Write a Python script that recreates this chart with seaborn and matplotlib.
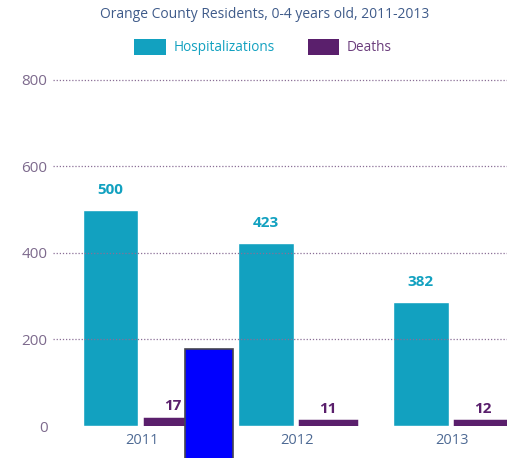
import matplotlib
matplotlib.use("Agg")
import matplotlib.pyplot as plt
import seaborn as sns
import pandas as pd
from matplotlib.patches import Patch
from matplotlib.colors import to_hex

years = ["2011", "2012", "2013"]
hospitalizations = [500, 423, 287]
hosp_labels = ["500", "423", "382"]
deaths = [17, 11, 12]
death_labels = ["17", "11", "12"]
overlay_value = [178]
overlay_bottom = [-90]
yticks = [0, 200, 400, 600, 800]

HOSP_C = "#12a1c0"
DEATH_C = "#5a1f6c"

sns.set_theme(style="white")
plt.rcParams["font.family"] = ["Open Sans", "DejaVu Sans"]

df = pd.DataFrame({
    "year": years * 2,
    "measure": ["Hospitalizations"] * 3 + ["Deaths"] * 3,
    "value": hospitalizations + deaths,
})

fig = plt.figure(figsize=(5.12, 4.58), dpi=100)
ax = fig.add_axes([53 / 512, (458 - 426) / 458, 454 / 512, 355 / 458])

sns.barplot(data=df, x="year", y="value", hue="measure",
            palette={"Hospitalizations": HOSP_C, "Deaths": DEATH_C},
            width=0.8, gap=0.1, ax=ax, legend=False, saturation=1)

for p in ax.patches:
    if to_hex(p.get_facecolor()) == DEATH_C:
        p.set_edgecolor(DEATH_C)
        p.set_linewidth(2.5)

ax.set_xlim(-0.571, 2.355)
ax.set_ylim(0, 820)
ax.set_yticks(yticks)
ax.set_yticklabels([str(t) for t in yticks], color="#7d6a8d", fontsize=11)
ax.tick_params(axis="y", length=0, pad=4)
ax.tick_params(axis="x", length=0, pad=5, labelsize=10.5, labelcolor="#4e6a94")
ax.set_xlabel("")
ax.set_ylabel("")
for s in ax.spines.values():
    s.set_visible(False)

ax.yaxis.grid(True, linestyle=(0, (1, 1.5)), color="#8a6f96", linewidth=0.9)
ax.set_axisbelow(False)
ax.yaxis.get_gridlines()[0].set_visible(False)

# value labels
for i, (v, lab) in enumerate(zip(hospitalizations, hosp_labels)):
    ax.text(i - 0.2, v + 30, lab, ha="center", va="bottom",
            color=HOSP_C, fontsize=11, fontweight="bold")
for i, (v, lab) in enumerate(zip(deaths, death_labels)):
    ax.text(i + 0.2, v + 12, lab, ha="center", va="bottom",
            color=DEATH_C, fontsize=11, fontweight="bold")

# blue overlay bar
for v, b in zip(overlay_value, overlay_bottom):
    ax.bar(0.435, v - b, bottom=b, width=0.31, color="#0000ff",
           edgecolor="#44444f", linewidth=1.2, clip_on=False, zorder=5)

fig.text(265 / 512, 1 - 14 / 458, "Orange County Residents, 0-4 years old, 2011-2013",
         ha="center", va="center", color="#3f5b8a", fontsize=10)

handles = [Patch(facecolor=HOSP_C, edgecolor="none"),
           Patch(facecolor=DEATH_C, edgecolor="none")]
leg = fig.legend(handles, ["Hospitalizations", "Deaths"], ncol=2,
                 loc="center", bbox_to_anchor=(0.514, 1 - 47 / 458),
                 frameon=False, fontsize=9.8, handlelength=2.3, handleheight=1.5,
                 columnspacing=2.4, handletextpad=0.6)
for t, c in zip(leg.get_texts(), [HOSP_C, "#6b3d7c"]):
    t.set_color(c)

fig.savefig("out.png", dpi=100)
